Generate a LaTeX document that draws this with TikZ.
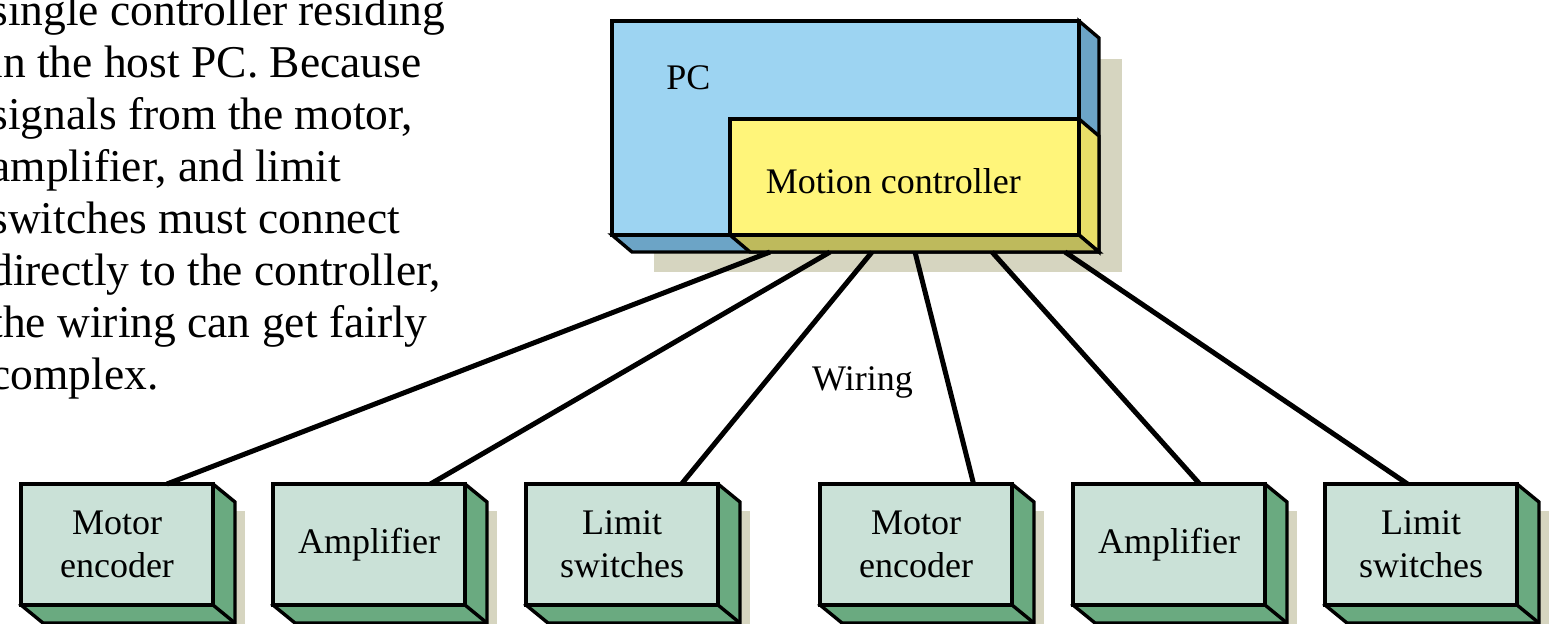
\documentclass[tikz,border=0pt]{standalone}
\usepackage{fontspec}
\setmainfont{Liberation Serif}
\usetikzlibrary{calc}

\definecolor{pcblue}{RGB}{157,212,242}
\definecolor{pcside}{RGB}{108,164,198}
\definecolor{mcyellow}{RGB}{255,245,122}
\definecolor{mcside}{RGB}{232,222,104}
\definecolor{mcbottom}{RGB}{190,186,92}
\definecolor{devgreen}{RGB}{202,225,215}
\definecolor{devside}{RGB}{106,170,128}
\definecolor{shadowtan}{RGB}{214,213,192}

\begin{document}
\begin{tikzpicture}[x=0.5pt,y=-0.5pt,
  edge/.style={line width=1.7pt},
  front/.style={draw,edge,inner sep=0pt,outer sep=0pt,align=center,
    font=\fontsize{18pt}{21.5pt}\selectfont},
  lbl/.style={inner sep=0pt,font=\fontsize{18pt}{21.5pt}\selectfont},
  wire/.style={line width=2.5pt},
  para/.style={anchor=base west,inner sep=0pt,
    font=\fontsize{22.75pt}{26pt}\selectfont}]

\clip (0,0) rectangle (1551,623);
\fill[white] (0,0) rectangle (1551,623);

% Text beside the figure
\foreach \txtline [count=\i] in {single controller residing, in the host PC. Because,
  {signals from the motor,}, {amplifier, and limit}, switches must connect,
  {directly to the controller,}, the wiring can get fairly, complex.}
  \node[para] (line\i) at (-10,{25+52*(\i-1)}) {\txtline};

% PC
\def\dx{20}
\def\dy{17}
\fill[shadowtan] (654,59) rectangle (1122,272);
\filldraw[fill=pcside,edge] (1079,21) -- ++(\dx,\dy) -- (1099,252) -- (632,252)
  -- (612,235) -- (1079,235) -- cycle;
\draw[edge] (1079,235) -- ++(\dx,\dy);
\node[front,fill=pcblue,minimum width=233.5pt,minimum height=107pt] (pc) at (845.5,128) {};
\node[lbl,anchor=base west] (pctext) at (666,89.5) {PC};

% Motion controller card
\filldraw[fill=mcside,edge] (1079,119) -- ++(\dx,\dy) -- (1099,252) -- (1079,235) -- cycle;
\filldraw[fill=mcbottom,edge] (730,235) -- ++(\dx,\dy) -- (1099,252) -- (1079,235) -- cycle;
\node[front,fill=mcyellow,minimum width=174.5pt,minimum height=58pt] (mc) at (904.5,177) {};
\node[lbl,anchor=base west] (mctext) at (765.5,193) {Motion controller};

% Devices
\foreach \n/\x/\txt in {enc1/21/{Motor\\encoder}, amp1/273/Amplifier, lim1/526/{Limit\\switches},
  enc2/820/{Motor\\encoder}, amp2/1073/Amplifier, lim2/1325/{Limit\\switches}} {
  \fill[shadowtan] (\x+32,511) rectangle ++(192,121);
  \filldraw[fill=devside,edge] (\x+192,484) -- ++(22,18) -- ++(0,121) -- ++(-192,0)
    -- ++(-22,-18) -- cycle;
  \draw[edge] (\x+192,605) -- ++(22,18);
  \node[front,fill=devgreen,minimum width=96pt,minimum height=60.5pt] (\n) at (\x+96,544.5) {\txt};
}

% Wiring
\foreach \dev/\s/\f in {enc1/40/0.76, amp1/100/0.82, lim1/142/0.81,
  enc2/185/0.80, amp2/262/0.66, lim2/335/0.43}
  \draw[wire] ($(mc.south west)+(\s,17)$) -- ($(\dev.north west)!\f!(\dev.north east)$);

\node[lbl,anchor=base] (wiring) at (862.5,390) {Wiring};

\end{tikzpicture}
\end{document}
